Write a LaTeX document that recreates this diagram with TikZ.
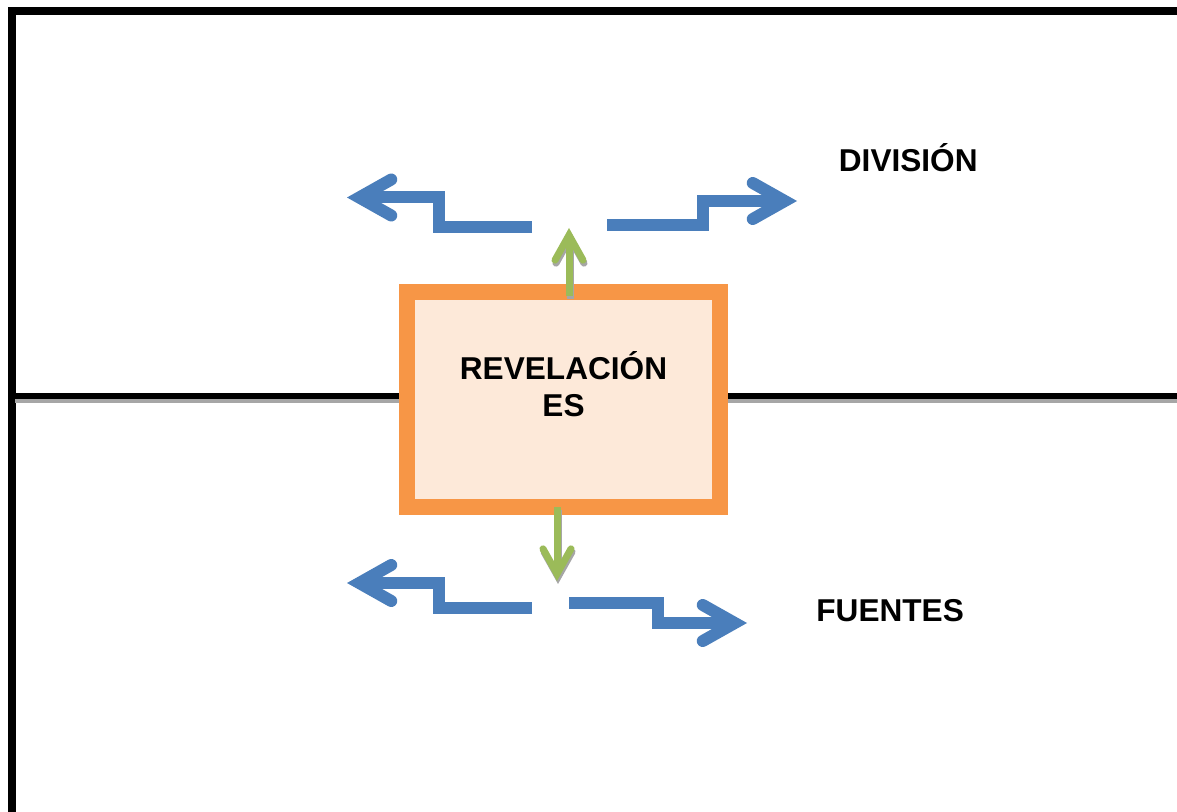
\documentclass[tikz,border=0pt]{standalone}
\usepackage{fontspec}
\setmainfont{Liberation Sans}
\usetikzlibrary{arrows.meta}
\definecolor{bluearr}{HTML}{4A7EBB}
\definecolor{greenarr}{HTML}{9BBB59}
\definecolor{orangebox}{HTML}{F79646}
\definecolor{peach}{HTML}{FDE9D9}
\definecolor{shadowgray}{HTML}{A6A6A6}
\tikzset{
  frame/.style={draw=black, line width=4pt, line join=miter},
  box/.style={draw=orangebox, fill=peach, line width=8pt, outer sep=0pt,
    minimum width=156.5pt, minimum height=107.5pt},
  lbl/.style={inner sep=0pt, font=\fontsize{15.8pt}{18.3pt}\selectfont\bfseries},
  elbow/.style={draw=bluearr, line width=6pt, line join=miter,
    -{Straight Barb[length=16pt,width=18pt,line cap=round,line join=miter]}},
  sprout/.style={draw=greenarr, line width=3.5pt,
    -{Straight Barb[length=12.5pt,width=14pt,line cap=round,line join=miter]}},
  sproutshadow/.style={sprout, draw=shadowgray, transform canvas={shift={(0.5pt,-1.5pt)}}}
}
\begin{document}
\begin{tikzpicture}[x=0.5pt,y=-0.5pt]
  \useasboundingbox (0,0) rectangle (1177,812);
  \draw[frame] (11.5,812) -- (11.5,10.7) -- (1177,10.7);
  \draw[shadowgray, line width=2pt] (15,401) -- (1177,401);
  \draw[line width=3pt] (15,396) -- (1177,396);
  \node[box] (revel) at (563.5,399.5) {};
  \node[lbl, align=center] (revtxt) at (563.5,384) {REVELACIÓN\\ES};
  \node[lbl, anchor=base west] (div) at (838.5,171.7) {DIVISIÓN};
  \node[lbl, anchor=base west] (fue) at (816,621.7) {FUENTES};
  \coordinate (ul0) at (532,227);
  \coordinate (ul1) at (439,212);
  \coordinate (ul2) at (347,197.5);
  \coordinate (ur0) at (607,225);
  \coordinate (ur1) at (702.5,212);
  \coordinate (ur2) at (797,201);
  \coordinate (ll0) at (532,608);
  \coordinate (ll1) at (439,595);
  \coordinate (ll2) at (347,583);
  \coordinate (lr0) at (569,603);
  \coordinate (lr1) at (658,613);
  \coordinate (lr2) at (747,623);
  \coordinate (up) at (569,228);
  \coordinate (down) at (557,581);
  \begin{scope}[elbow]
    \draw (ul0) -| (ul1) |- (ul2);
    \draw (ur0) -| (ur1) |- (ur2);
    \draw (ll0) -| (ll1) |- (ll2);
    \draw (lr0) -| (lr1) |- (lr2);
  \end{scope}
  \draw[sproutshadow] ([xshift=2.75pt,yshift=-2pt]revel.north) -- (up);
  \draw[sproutshadow] ([xshift=-3.25pt]revel.south) -- (down);
  \draw[sprout] ([xshift=2.75pt,yshift=-2pt]revel.north) -- (up);
  \draw[sprout] ([xshift=-3.25pt]revel.south) -- (down);
\end{tikzpicture}
\end{document}
